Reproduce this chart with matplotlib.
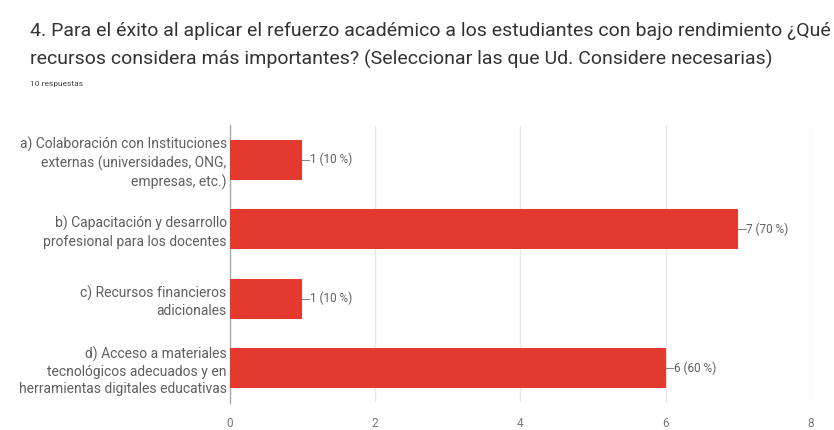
import matplotlib
matplotlib.use("Agg")
import matplotlib.pyplot as plt

plt.rcParams['font.family'] = ['Roboto', 'DejaVu Sans']

categories = [
    "a) Colaboración con Instituciones\nexternas (universidades, ONG,\nempresas, etc.)",
    "b) Capacitación y desarrollo\nprofesional para los docentes",
    "c) Recursos financieros\nadicionales",
    "d) Acceso a materiales\ntecnológicos adecuados y en\nherramientas digitales educativas",
]
counts = [1, 7, 1, 6]
percents = [10, 70, 10, 60]
xticks = [0, 2, 4, 6, 8]

title_lines = [
    "4. Para el éxito al aplicar el refuerzo académico a los estudiantes con bajo rendimiento ¿Qué",
    "recursos considera más importantes? (Seleccionar las que Ud. Considere necesarias)",
]
subtitle = "10 respuestas"

bar_color = "#e3392f"
text_gray = "#5f5f5f"
grid_gray = "#e8e8e8"

fig = plt.figure(figsize=(8.34, 4.30), dpi=100)
ax = fig.add_axes([0.2752, 0.0628, 0.6972, 0.6465])

y = list(range(len(categories)))
ax.barh(y, counts, height=0.57, color=bar_color, zorder=3)
ax.set_ylim(len(categories) - 0.5, -0.5)
ax.set_xlim(0, 8)

ax.set_xticks(xticks)
ax.set_xticklabels([str(t) for t in xticks], fontsize=8.5, color="#777777")
ax.set_yticks(y)
ax.set_yticklabels(categories, fontsize=10, color=text_gray, linespacing=1.3)
ax.tick_params(axis="y", length=0, pad=2)
ax.tick_params(axis="x", length=0, pad=10)

ax.grid(axis="x", color=grid_gray, linewidth=1, zorder=0)
for side in ["top", "right", "bottom"]:
    ax.spines[side].set_visible(False)
ax.spines["left"].set_color("#aaaaaa")
ax.spines["left"].set_linewidth(1)

for yi, c, p in zip(y, counts, percents):
    ax.plot([c, c + 0.1], [yi, yi], color="#888888", linewidth=0.8, zorder=4,
            clip_on=False)
    ax.text(c + 0.11, yi, f"{c} ({p} %)", va="center", ha="left",
            fontsize=8.5, color=text_gray)

fig.text(0.036, 0.928, title_lines[0], fontsize=14, color="#333333",
         va="center", ha="left")
fig.text(0.036, 0.862, title_lines[1], fontsize=14, color="#333333",
         va="center", ha="left")
fig.text(0.036, 0.805, subtitle, fontsize=6, color="#444444",
         va="center", ha="left")

fig.savefig("out.png", dpi=100)
